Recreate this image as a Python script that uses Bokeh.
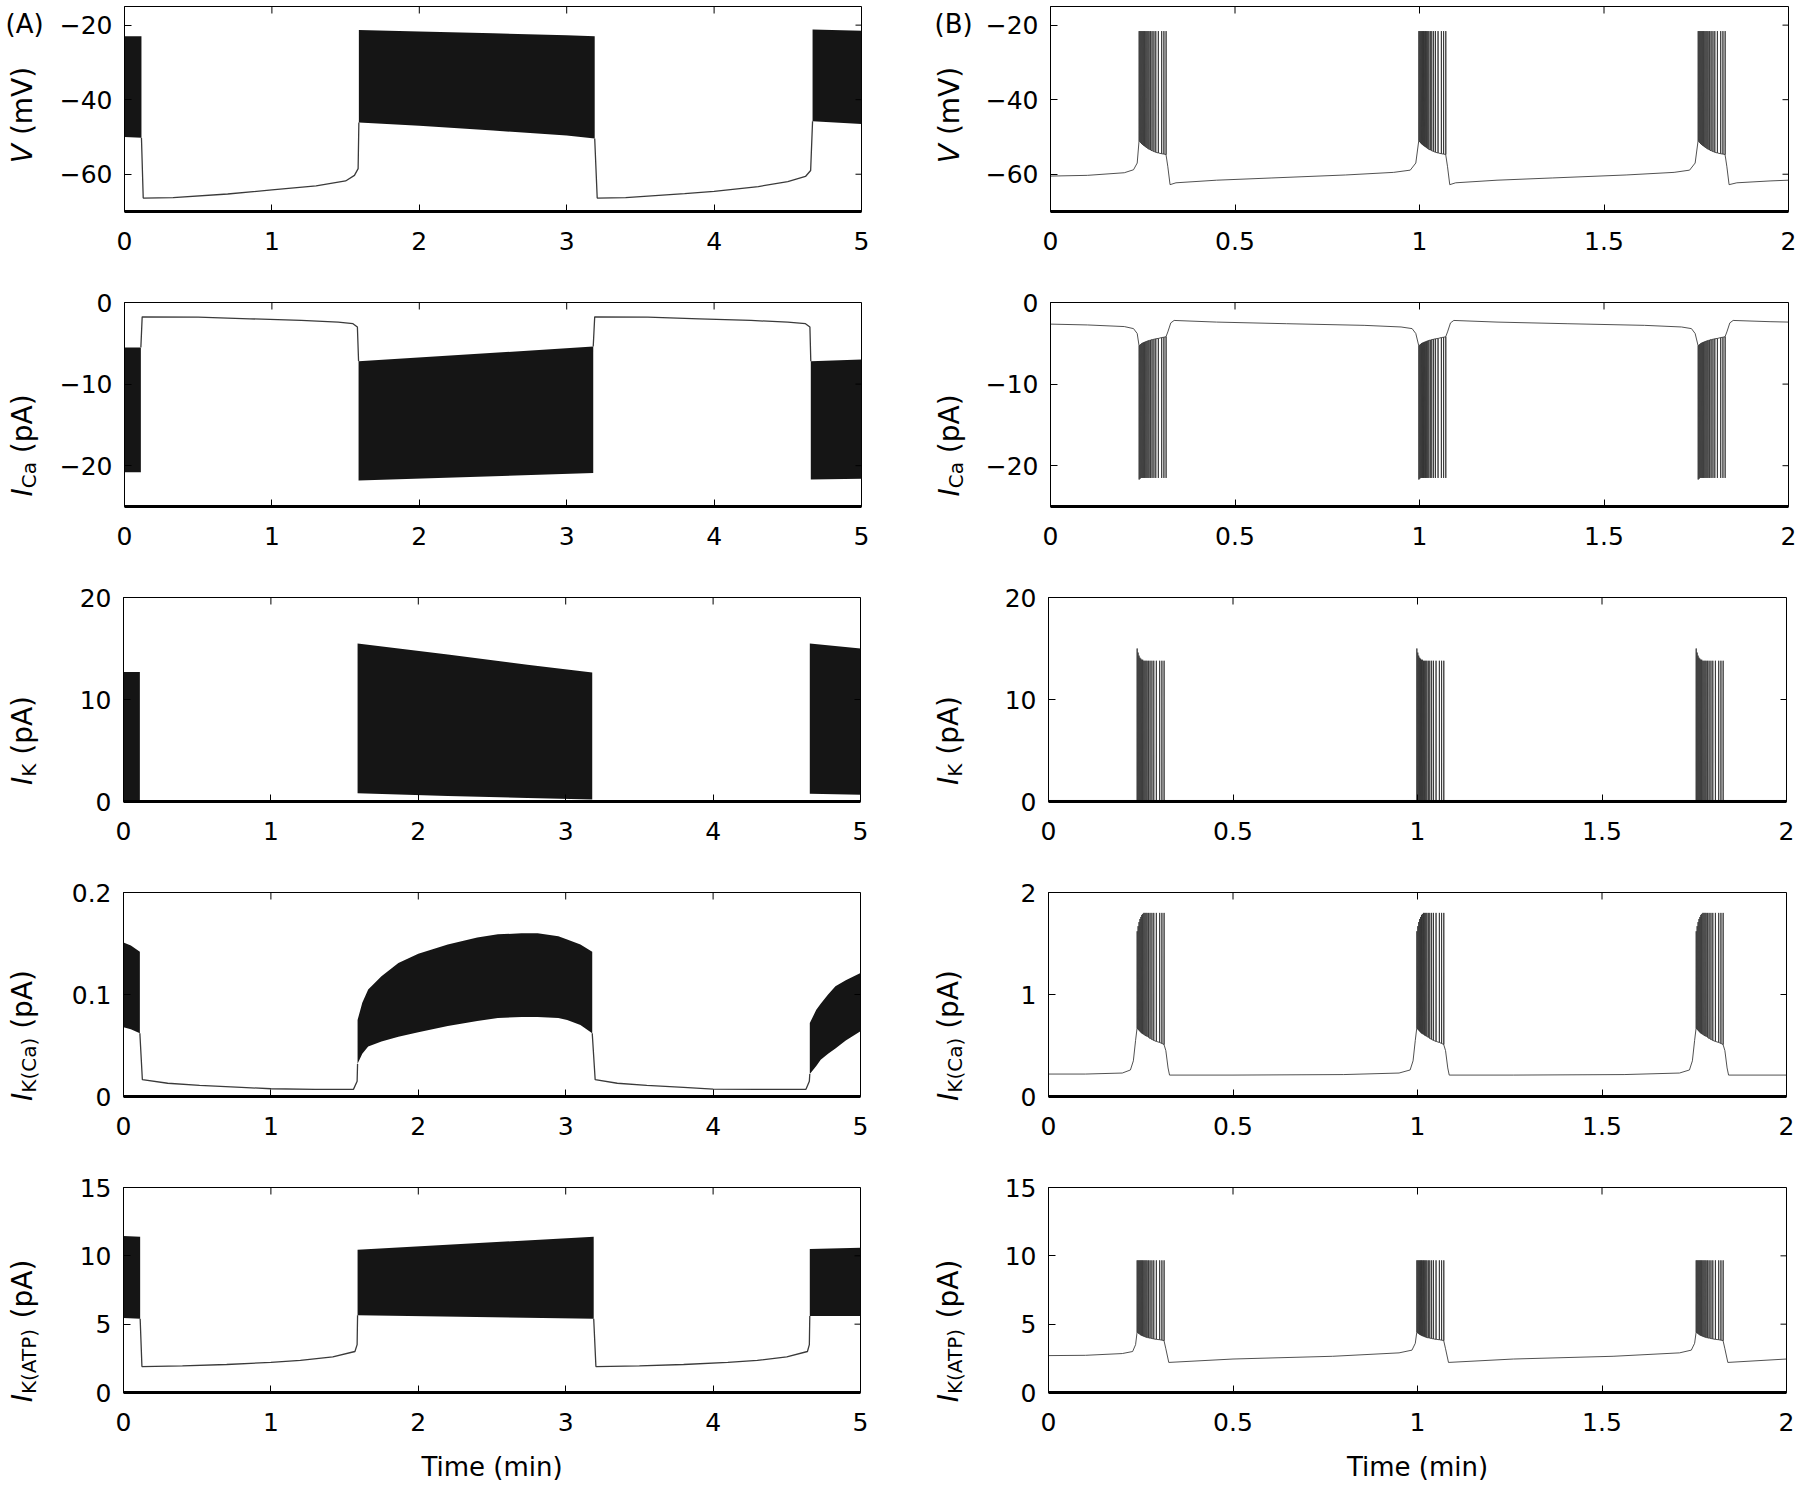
import math
from bokeh.plotting import figure
from bokeh.models import Range1d, FixedTicker, Label
from bokeh.layouts import column, row
from bokeh.embed import file_html
from bokeh.resources import INLINE

FONT = "DejaVu Sans"

# ---------------- axes ----------------
xA_ticks = [0, 1, 2, 3, 4, 5]
xA_labels = ["0", "1", "2", "3", "4", "5"]
xB_ticks = [0, 0.5, 1, 1.5, 2]
xB_labels = ["0", "0.5", "1", "1.5", "2"]

V_range = (-70, -15)
V_ticks = [-60, -40, -20]
V_labels = ["\u221260", "\u221240", "\u221220"]
ICa_range = (-25, 0)
ICa_ticks = [-20, -10, 0]
ICa_labels = ["\u221220", "\u221210", "0"]
IK_range = (0, 20)
IK_ticks = [0, 10, 20]
IK_labels = ["0", "10", "20"]
IKCaA_range = (0, 0.2)
IKCaA_ticks = [0, 0.1, 0.2]
IKCaA_labels = ["0", "0.1", "0.2"]
IKCaB_range = (0, 2)
IKCaB_ticks = [0, 1, 2]
IKCaB_labels = ["0", "1", "2"]
IKATP_range = (0, 15)
IKATP_ticks = [0, 5, 10, 15]
IKATP_labels = ["0", "5", "10", "15"]

# ---------------- column A data (bursts as envelopes, silent phases as lines) ----------------
A_V_burst_t = [[0.0, 0.115], [1.59, 2.0, 2.5, 3.0, 3.19], [4.668, 5.0]]
A_V_burst_hi = [[-23.0, -23.0], [-21.3, -21.7, -22.2, -22.7, -23.0], [-21.2, -21.5]]
A_V_burst_lo = [[-50.0, -50.2], [-46.1, -47.0, -48.3, -49.6, -50.4], [-45.8, -46.5]]
A_V_quiet_t = [[0.115, 0.127, 0.33, 0.7, 1.0, 1.3, 1.5, 1.56, 1.585, 1.59],
               [3.19, 3.207, 3.4, 3.8, 4.0, 4.3, 4.5, 4.62, 4.655, 4.668]]
A_V_quiet_y = [[-50.2, -66.4, -66.3, -65.3, -64.2, -63.1, -61.8, -60.3, -58.5, -46.1],
               [-50.4, -66.4, -66.3, -65.2, -64.6, -63.3, -62.0, -60.6, -59.0, -45.8]]

A_ICa_burst_t = [[0.0, 0.111], [1.588, 3.18], [4.656, 5.0]]
A_ICa_burst_hi = [[-5.5, -5.5], [-7.2, -5.4], [-7.2, -7.0]]
A_ICa_burst_lo = [[-20.8, -20.8], [-21.8, -20.9], [-21.7, -21.6]]
A_ICa_quiet_t = [[0.111, 0.12, 0.5, 0.85, 1.2, 1.45, 1.55, 1.58, 1.588],
                 [3.18, 3.19, 3.55, 3.9, 4.25, 4.5, 4.62, 4.65, 4.656]]
A_ICa_quiet_y = [[-5.5, -1.75, -1.8, -2.0, -2.2, -2.4, -2.6, -3.0, -7.2],
                 [-5.4, -1.75, -1.8, -2.0, -2.2, -2.4, -2.6, -3.0, -7.2]]

A_IK_burst_t = [[0.0, 0.111], [1.588, 2.2, 2.74, 3.18], [4.656, 5.0]]
A_IK_burst_hi = [[12.7, 12.7], [15.5, 14.4, 13.4, 12.65], [15.5, 15.0]]
A_IK_burst_lo = [[0.1, 0.1], [0.8, 0.55, 0.35, 0.2], [0.75, 0.65]]
A_IK_quiet_t = [[0.111, 1.588], [3.18, 4.656]]
A_IK_quiet_y = [[0.08, 0.08], [0.08, 0.08]]

A_IKCa_burst_t = [[0.0, 0.05, 0.111],
                  [1.588, 1.62, 1.66, 1.75, 1.865, 2.0, 2.2, 2.4, 2.54, 2.7, 2.81, 2.95, 3.01, 3.1, 3.18],
                  [4.656, 4.7, 4.73, 4.78, 4.83, 4.9, 5.0]]
A_IKCa_burst_hi = [[0.151, 0.148, 0.142],
                   [0.075, 0.092, 0.105, 0.118, 0.131, 0.140, 0.149, 0.156, 0.159, 0.160, 0.160, 0.157, 0.154, 0.149, 0.142],
                   [0.072, 0.085, 0.091, 0.100, 0.108, 0.114, 0.121]]
A_IKCa_burst_lo = [[0.068, 0.066, 0.062],
                   [0.032, 0.042, 0.049, 0.054, 0.0586, 0.063, 0.069, 0.074, 0.077, 0.078, 0.078, 0.077, 0.075, 0.070, 0.062],
                   [0.022, 0.030, 0.036, 0.042, 0.047, 0.055, 0.064]]
A_IKCa_quiet_t = [[0.111, 0.128, 0.3, 0.516, 0.8, 1.0, 1.3, 1.56, 1.585, 1.588],
                  [3.18, 3.2, 3.35, 3.55, 3.8, 4.0, 4.3, 4.63, 4.653, 4.656]]
A_IKCa_quiet_y = [[0.062, 0.0165, 0.013, 0.011, 0.009, 0.0076, 0.007, 0.007, 0.015, 0.032],
                  [0.062, 0.0165, 0.013, 0.011, 0.009, 0.0073, 0.007, 0.007, 0.015, 0.022]]

A_IKATP_burst_t = [[0.0, 0.113], [1.588, 3.19], [4.656, 5.0]]
A_IKATP_burst_hi = [[11.45, 11.4], [10.45, 11.4], [10.5, 10.6]]
A_IKATP_burst_lo = [[5.45, 5.4], [5.65, 5.4], [5.6, 5.6]]
A_IKATP_quiet_t = [[0.113, 0.125, 0.4, 0.7, 1.0, 1.2, 1.42, 1.57, 1.585, 1.588],
                   [3.19, 3.205, 3.5, 3.8, 4.1, 4.3, 4.5, 4.64, 4.653, 4.656]]
A_IKATP_quiet_y = [[5.4, 1.9, 1.95, 2.05, 2.2, 2.35, 2.6, 3.0, 3.5, 5.65],
                   [5.4, 1.9, 1.95, 2.05, 2.2, 2.35, 2.6, 3.0, 3.5, 5.6]]

# ---------------- column B data (individual spikes) ----------------
B_burst_start = [0.240, 0.998, 1.755]
B_spike_offset = [0.000, 0.0025, 0.005, 0.0075, 0.010, 0.0125, 0.015, 0.018, 0.021, 0.024,
                  0.027, 0.031, 0.035, 0.040, 0.045, 0.052, 0.061, 0.067, 0.073]

B_V_base = [-51.0, -51.3, -51.6, -51.9, -52.1, -52.3, -52.5, -52.7, -52.9, -53.1,
            -53.3, -53.5, -53.7, -53.9, -54.1, -54.3, -54.5, -54.6, -54.7]
B_V_peak = [-21.6, -21.6, -21.6, -21.6, -21.6, -21.6, -21.6, -21.6, -21.6, -21.6,
            -21.6, -21.6, -21.6, -21.6, -21.6, -21.6, -21.6, -21.6, -21.6]
B_V_quiet_t = [[0, 0.1, 0.2, 0.225, 0.235, 0.240],
               [0.313, 0.318, 0.324, 0.34, 0.45, 0.6, 0.8, 0.93, 0.975, 0.99, 0.998],
               [1.071, 1.076, 1.082, 1.098, 1.21, 1.36, 1.56, 1.69, 1.732, 1.747, 1.755],
               [1.828, 1.833, 1.839, 1.86, 1.95, 2.0]]
B_V_quiet_y = [[-60.5, -60.3, -59.6, -58.8, -57.0, -51.0],
               [-54.7, -58.0, -62.8, -62.3, -61.6, -61.0, -60.2, -59.5, -58.9, -57.0, -51.0],
               [-54.7, -58.0, -62.8, -62.3, -61.6, -61.0, -60.2, -59.5, -58.9, -57.0, -51.0],
               [-54.7, -58.0, -62.8, -62.3, -61.8, -61.6]]

B_ICa_base = [-5.3, -5.2, -5.1, -5.0, -4.95, -4.9, -4.85, -4.8, -4.75, -4.7,
              -4.65, -4.6, -4.55, -4.5, -4.45, -4.4, -4.3, -4.25, -4.2]
B_ICa_peak = [-21.7, -21.6, -21.5, -21.5, -21.5, -21.5, -21.5, -21.5, -21.5, -21.5,
              -21.5, -21.5, -21.5, -21.5, -21.5, -21.5, -21.5, -21.5, -21.5]
B_ICa_quiet_t = [[0, 0.1, 0.2, 0.225, 0.235, 0.240],
                 [0.313, 0.318, 0.326, 0.335, 0.45, 0.64, 0.85, 0.95, 0.98, 0.99, 0.998],
                 [1.071, 1.076, 1.084, 1.093, 1.21, 1.40, 1.61, 1.71, 1.737, 1.747, 1.755],
                 [1.828, 1.833, 1.841, 1.85, 1.95, 2.0]]
B_ICa_quiet_y = [[-2.65, -2.75, -2.95, -3.2, -3.8, -5.3],
                 [-4.2, -3.6, -2.5, -2.2, -2.4, -2.6, -2.8, -3.0, -3.2, -3.8, -5.3],
                 [-4.2, -3.6, -2.5, -2.2, -2.4, -2.6, -2.8, -3.0, -3.2, -3.8, -5.3],
                 [-4.2, -3.6, -2.5, -2.2, -2.35, -2.4]]

B_IK_base = [0.1, 0.1, 0.1, 0.1, 0.1, 0.1, 0.1, 0.1, 0.1, 0.1,
             0.1, 0.1, 0.1, 0.1, 0.1, 0.1, 0.1, 0.1, 0.1]
B_IK_peak = [15.0, 14.6, 14.3, 14.1, 14.0, 13.9, 13.9, 13.8, 13.8, 13.8,
             13.8, 13.8, 13.8, 13.8, 13.8, 13.8, 13.8, 13.8, 13.8]
B_IK_quiet_t = [[0, 0.240], [0.313, 0.998], [1.071, 1.755], [1.828, 2.0]]
B_IK_quiet_y = [[0.1, 0.1], [0.1, 0.1], [0.1, 0.1], [0.1, 0.1]]

B_IKCa_base = [0.67, 0.66, 0.65, 0.64, 0.63, 0.62, 0.615, 0.61, 0.60, 0.595,
               0.59, 0.58, 0.57, 0.56, 0.55, 0.54, 0.53, 0.52, 0.51]
B_IKCa_peak = [1.62, 1.67, 1.71, 1.74, 1.76, 1.78, 1.79, 1.80, 1.80, 1.80,
               1.80, 1.80, 1.80, 1.80, 1.80, 1.80, 1.80, 1.80, 1.80]
B_IKCa_quiet_t = [[0, 0.1, 0.2, 0.222, 0.23, 0.236, 0.240],
                  [0.313, 0.318, 0.324, 0.328, 0.5, 0.8, 0.95, 0.98, 0.988, 0.994, 0.998],
                  [1.071, 1.076, 1.082, 1.086, 1.26, 1.56, 1.71, 1.737, 1.745, 1.751, 1.755],
                  [1.828, 1.833, 1.839, 1.843, 2.0]]
B_IKCa_quiet_y = [[0.22, 0.22, 0.23, 0.26, 0.35, 0.55, 0.67],
                  [0.51, 0.45, 0.28, 0.21, 0.21, 0.215, 0.23, 0.26, 0.35, 0.55, 0.67],
                  [0.51, 0.45, 0.28, 0.21, 0.21, 0.215, 0.23, 0.26, 0.35, 0.55, 0.67],
                  [0.51, 0.45, 0.28, 0.21, 0.21]]

B_IKATP_base = [4.4, 4.35, 4.3, 4.25, 4.2, 4.17, 4.14, 4.11, 4.08, 4.05,
                4.02, 4.0, 3.98, 3.95, 3.92, 3.89, 3.86, 3.83, 3.8]
B_IKATP_peak = [9.67, 9.67, 9.67, 9.67, 9.67, 9.67, 9.67, 9.67, 9.67, 9.67,
                9.67, 9.67, 9.67, 9.67, 9.67, 9.67, 9.67, 9.67, 9.67]
B_IKATP_quiet_t = [[0, 0.1, 0.2, 0.228, 0.236, 0.240],
                   [0.313, 0.318, 0.326, 0.5, 0.77, 0.95, 0.985, 0.994, 0.998],
                   [1.071, 1.076, 1.084, 1.26, 1.53, 1.71, 1.742, 1.751, 1.755],
                   [1.828, 1.833, 1.841, 2.0]]
B_IKATP_quiet_y = [[2.7, 2.72, 2.85, 3.0, 3.5, 4.4],
                   [3.8, 3.2, 2.2, 2.45, 2.65, 2.9, 3.1, 3.6, 4.4],
                   [3.8, 3.2, 2.2, 2.45, 2.65, 2.9, 3.1, 3.6, 4.4],
                   [3.8, 3.2, 2.2, 2.45]]

# y-axis label parts: (text, style, size, subscript)
YLAB = [
    [("V", "italic", 28, False), (" (mV)", "normal", 28, False)],
    [("I", "italic", 28, False), ("Ca", "normal", 20, True), (" (pA)", "normal", 28, False)],
    [("I", "italic", 28, False), ("K", "normal", 20, True), (" (pA)", "normal", 28, False)],
    [("I", "italic", 28, False), ("K(Ca)", "normal", 20, True), (" (pA)", "normal", 28, False)],
    [("I", "italic", 28, False), ("K(ATP)", "normal", 20, True), (" (pA)", "normal", 28, False)],
]
ADV = {" ": 0.318, "(": 0.390, ")": 0.390, "A": 0.684, "C": 0.698, "K": 0.656, "P": 0.603,
       "T": 0.611, "V": 0.684, "a": 0.613, "m": 0.974, "p": 0.635, "I": 0.295}

# ---------------- layout geometry (page has no margin) ----------------
LAB_W_A, LAB_W_B = 56, 111          # label strips left of each column
FW_A, FW_B = 737, 738
LEFT, RIGHT_A, RIGHT_B = 67, 10, 8
FH = [205, 204, 204, 204, 205]
TOP = [6, 41, 41, 41, 41]
BOT = [50, 50, 50, 50, 98]
YLAB_X_A, YLAB_X_B = 22, 78         # anchor of rotated labels inside strips


def style(p, xt, xl, yt, yl, xr, yr):
    p.grid.visible = False
    p.background_fill_color = "white"
    p.border_fill_color = "white"
    p.outline_line_color = "black"
    p.outline_line_width = 1
    p.xaxis.ticker = FixedTicker(ticks=xt, minor_ticks=[])
    p.yaxis.ticker = FixedTicker(ticks=yt, minor_ticks=[])
    p.xaxis.major_label_overrides = dict(zip(xt, xl))
    p.yaxis.major_label_overrides = dict(zip(yt, yl))
    for ax in (p.xaxis[0], p.yaxis[0]):
        ax.major_tick_in = 7
        ax.major_tick_out = 0
        ax.minor_tick_in = 0
        ax.minor_tick_out = 0
        ax.major_label_text_font = FONT
        ax.major_label_text_font_size = "25px"
        ax.major_label_text_color = "black"
        ax.axis_line_color = "black"
        ax.major_tick_line_color = "black"
    p.xaxis.axis_line_width = 3
    p.xaxis.major_label_standoff = 20
    p.yaxis.major_label_standoff = 12
    # mirrored inward ticks on top and right edges
    p.ray(x=xt, y=[yr[1]] * len(xt), length=7, angle=-math.pi / 2, length_units="screen",
          line_color="black", line_width=1)
    p.ray(x=[xr[1]] * len(yt), y=yt, length=6, angle=math.pi, length_units="screen",
          line_color="black", line_width=1)


def label_strip(i, width, xbase, parts, panel_tag=None, tag_x=0):
    h = TOP[i] + FH[i] + BOT[i]
    s = figure(frame_width=width, frame_height=h, x_range=Range1d(0, 1), y_range=Range1d(0, 1),
               output_backend="svg", toolbar_location=None, x_axis_location=None, y_axis_location=None,
               min_border_left=0, min_border_right=0, min_border_top=0, min_border_bottom=0)
    s.grid.visible = False
    s.outline_line_color = None
    s.background_fill_color = "white"
    s.border_fill_color = "white"
    widths = [sum(ADV[c] for c in txt) * size for txt, _, size, _ in parts]
    y = BOT[i] + FH[i] / 2 - sum(widths) / 2
    for (txt, st, size, sub), w in zip(parts, widths):
        lead = len(txt) - len(txt.lstrip(" "))
        y0 = y + lead * ADV[" "] * size
        s.add_layout(Label(x=xbase + (6 if sub else 0), y=y0, x_units="screen", y_units="screen",
                           text=txt.lstrip(" "), angle=math.pi / 2, angle_units="rad",
                           text_font=FONT, text_font_size=f"{size}px", text_font_style=st,
                           text_color="black", text_align="left", text_baseline="alphabetic"))
        y += w
    if panel_tag:
        s.add_layout(Label(x=tag_x, y=h - 17, x_units="screen", y_units="screen", text=panel_tag,
                           text_font=FONT, text_font_size="26px", text_color="black",
                           text_align="left", text_baseline="alphabetic"))
    return s


def make_fig(i, fw, right, xr, yr):
    return figure(frame_width=fw, frame_height=FH[i], x_range=Range1d(*xr), y_range=Range1d(*yr),
                  output_backend="svg", toolbar_location=None,
                  min_border_left=LEFT, min_border_right=right,
                  min_border_top=TOP[i], min_border_bottom=BOT[i])


def draw_A(p, bt, bhi, blo, qt, qy):
    for t, hi, lo in zip(bt, bhi, blo):
        p.varea(x=t, y1=lo, y2=hi, fill_color="#151515")
    for t, y in zip(qt, qy):
        p.line(t, y, line_color="#3a3a3a", line_width=1.3)


def draw_B(p, qt, qy, base, peak):
    xs, ys = [], []
    for k in range(4):
        xs += qt[k]
        ys += qy[k]
        if k < 3:
            for off, b, pk in zip(B_spike_offset, base, peak):
                t = B_burst_start[k] + off
                xs += [t, t + 0.0003, t + 0.0006]
                ys += [b, pk, b]
    p.line(xs, ys, line_color="#333333", line_width=1.0, line_alpha=0.85)


A_sets = [
    (V_range, V_ticks, V_labels, A_V_burst_t, A_V_burst_hi, A_V_burst_lo, A_V_quiet_t, A_V_quiet_y),
    (ICa_range, ICa_ticks, ICa_labels, A_ICa_burst_t, A_ICa_burst_hi, A_ICa_burst_lo, A_ICa_quiet_t, A_ICa_quiet_y),
    (IK_range, IK_ticks, IK_labels, A_IK_burst_t, A_IK_burst_hi, A_IK_burst_lo, A_IK_quiet_t, A_IK_quiet_y),
    (IKCaA_range, IKCaA_ticks, IKCaA_labels, A_IKCa_burst_t, A_IKCa_burst_hi, A_IKCa_burst_lo, A_IKCa_quiet_t, A_IKCa_quiet_y),
    (IKATP_range, IKATP_ticks, IKATP_labels, A_IKATP_burst_t, A_IKATP_burst_hi, A_IKATP_burst_lo, A_IKATP_quiet_t, A_IKATP_quiet_y),
]
B_sets = [
    (V_range, V_ticks, V_labels, B_V_quiet_t, B_V_quiet_y, B_V_base, B_V_peak),
    (ICa_range, ICa_ticks, ICa_labels, B_ICa_quiet_t, B_ICa_quiet_y, B_ICa_base, B_ICa_peak),
    (IK_range, IK_ticks, IK_labels, B_IK_quiet_t, B_IK_quiet_y, B_IK_base, B_IK_peak),
    (IKCaB_range, IKCaB_ticks, IKCaB_labels, B_IKCa_quiet_t, B_IKCa_quiet_y, B_IKCa_base, B_IKCa_peak),
    (IKATP_range, IKATP_ticks, IKATP_labels, B_IKATP_quiet_t, B_IKATP_quiet_y, B_IKATP_base, B_IKATP_peak),
]

rows = []
for i in range(5):
    yr, yt, yl, bt, bhi, blo, qt, qy = A_sets[i]
    pa = make_fig(i, FW_A, RIGHT_A, (0, 5), yr)
    draw_A(pa, bt, bhi, blo, qt, qy)
    style(pa, xA_ticks, xA_labels, yt, yl, (0, 5), yr)

    yr, yt, yl, qt, qy, base, peak = B_sets[i]
    pb = make_fig(i, FW_B, RIGHT_B, (0, 2), yr)
    draw_B(pb, qt, qy, base, peak)
    style(pb, xB_ticks, xB_labels, yt, yl, (0, 2), yr)

    la = label_strip(i, LAB_W_A, YLAB_X_A, YLAB[i], "(A)" if i == 0 else None, 5)
    lb = label_strip(i, LAB_W_B, YLAB_X_B, YLAB[i], "(B)" if i == 0 else None, 63)

    if i == 4:
        for p in (pa, pb):
            p.xaxis.axis_label = "Time (min)"
            p.xaxis.axis_label_text_font = FONT
            p.xaxis.axis_label_text_font_size = "26px"
            p.xaxis.axis_label_text_font_style = "normal"
            p.xaxis.axis_label_text_color = "black"
            p.xaxis.axis_label_standoff = 18
    rows.append(row(la, pa, lb, pb))

layout = column(*rows)
open("out.html", "w").write(file_html(layout, INLINE))
